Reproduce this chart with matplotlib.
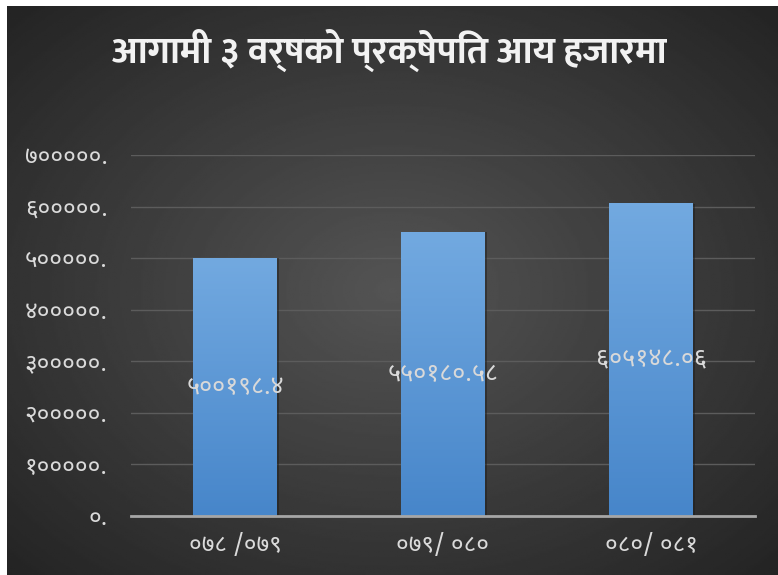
import numpy as np
import matplotlib
matplotlib.use('Agg')
import matplotlib.pyplot as plt

# आगामी ३ वर्षको प्रक्षेपित आय (हजारमा)
years = ['०७८ /०७९', '०७९/ ०८०', '०८०/ ०८१']
values = [500198.4, 550180.58, 605148.06]
value_labels = ['५००१९८.४', '५५०१८०.५८', '६०५१४८.०६']
yticks = [0, 100000, 200000, 300000, 400000, 500000, 600000, 700000]
ytick_labels = ['०.', '१०००००.', '२०००००.', '३०००००.', '४०००००.',
                '५०००००.', '६०००००.', '७०००००.']
title = 'आगामी ३ वर्षको प्रक्षेपित आय हजारमा'

W, H = 778, 575
fig = plt.figure(figsize=(W / 100, H / 100), dpi=100)
fig.patch.set_facecolor('white')

# dark radial background
bg = fig.add_axes([7 / W, 0, 1 - 7 / W, 1 - 6 / H])
yy, xx = np.mgrid[-1:1:300j, -1:1:400j]
r = np.sqrt(xx ** 2 + yy ** 2) / np.sqrt(2)
bg.imshow(0.33 - 0.19 * r, cmap='gray', vmin=0, vmax=1, aspect='auto',
          extent=[0, 1, 0, 1])
bg.axis('off')

ax = fig.add_axes([131 / W, 1 - 516 / H, 624 / W, 361 / H])
ax.patch.set_alpha(0)
x = np.arange(len(years))
bars = ax.bar(x, values, width=0.4, color='#5b9bd5', zorder=3)
ax.set_xlim(-0.5, len(years) - 0.5)
ax.set_ylim(0, 700000)

# gradient fill on the bars
grad = np.linspace(0, 1, 100).reshape(-1, 1)
cm = matplotlib.colors.LinearSegmentedColormap.from_list('b', ['#4786ca', '#72a9e0'])
for b in bars:
    bx, bw, bh = b.get_x(), b.get_width(), b.get_height()
    ax.imshow(grad, cmap=cm, origin='lower', aspect='auto',
              extent=[bx, bx + bw, 0, bh], zorder=4)
    ax.add_patch(plt.Rectangle((bx + bw, 0), 0.012, bh, color='#1e1e1e',
                               alpha=0.5, zorder=2, lw=0))

for xi, v, lab in zip(x, values, value_labels):
    ax.text(xi, v / 2, lab, ha='center', va='center', color='#d9d9d9',
            fontsize=18, family='Noto Sans Devanagari', zorder=6)

ax.set_yticks(yticks)
ax.set_yticklabels(ytick_labels, family='Noto Sans Devanagari')
ax.set_xticks(x)
ax.set_xticklabels(years, family='Noto Sans Devanagari')
ax.tick_params(colors='#dadada', labelsize=17.5, length=0)
ax.tick_params(axis='y', pad=17)
ax.tick_params(axis='x', pad=13)
ax.grid(axis='y', color='#5c5c5c', lw=1, zorder=0)
for s in ['top', 'right', 'left']:
    ax.spines[s].set_visible(False)
ax.spines['bottom'].set_color('#a6a6a6')
ax.spines['bottom'].set_linewidth(2)
ax.spines['bottom'].set_zorder(5)

fig.text(0.5, 1 - 50 / H, title, ha='center', va='center', color='#f2f2f2',
         fontsize=27, fontweight='bold', family='Ek Mukta')

fig.savefig('out.png', dpi=100)
